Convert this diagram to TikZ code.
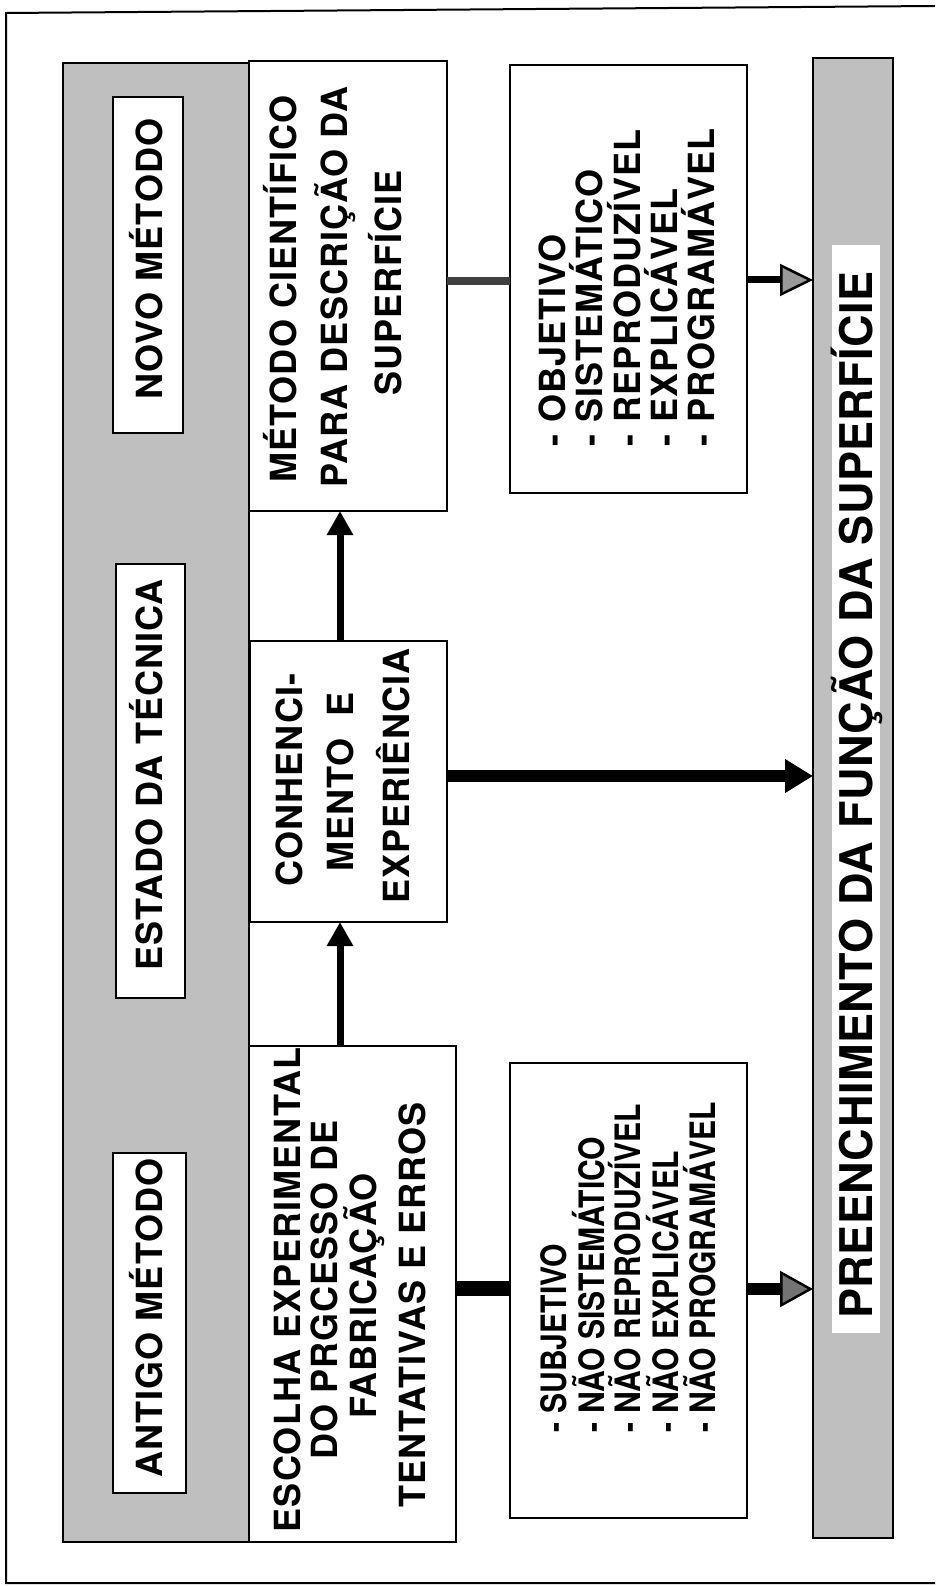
\documentclass[tikz,border=0pt]{standalone}
\usepackage{fontspec}
\setmainfont{TeX Gyre Heros}
\newfontfamily\boxfont[LetterSpace=3]{TeX Gyre Heros}
\newfontfamily\titlefont[LetterSpace=1]{TeX Gyre Heros}
\newfontfamily\condfont[FakeStretch=0.86]{TeX Gyre Heros}
\usetikzlibrary{arrows.meta}
\begin{document}
\begin{tikzpicture}[x=1pt,y=-1pt,
  box/.style={draw, fill=white, line width=1.8pt, inner sep=0pt, outer sep=0pt},
  shadebox/.style={draw, fill=black!25, line width=1.8pt, inner sep=0pt, outer sep=0pt},
  lbl/.style={rotate=90, inner sep=0pt, outer sep=0pt, anchor=base, font=\boxfont\bfseries\fontsize{36}{38}\selectfont},
  lst/.style={rotate=90, inner sep=0pt, outer sep=0pt, anchor=base west, font=\boxfont\bfseries\fontsize{36}{37}\selectfont},
  clst/.style={rotate=90, inner sep=0pt, outer sep=0pt, anchor=base west, font=\condfont\bfseries\fontsize{35}{37}\selectfont},
  uparrow/.style={line width=7pt, -{Triangle[length=24pt,width=25pt]}}
]
\useasboundingbox (0,0) rectangle (935,1586);
% frame
\draw[line width=2pt] (935,6) -- (6,13) -- (6,1583) -- (935,1583);

% shaded strip and labels
\node[shadebox, minimum width=186pt, minimum height=1479pt] (strip) at (156,802.5) {};
\node[box, minimum width=70pt, minimum height=336pt] (novo) at (148,265) {};
\node[box, minimum width=69pt, minimum height=434pt] (estado) at (150.5,781) {};
\node[box, minimum width=73pt, minimum height=340pt] (antigo) at (149.5,1323) {};
\node[lbl] (tnovo) at (162,259) {NOVO MÉTODO};
\node[lbl] (testado) at (162,775) {ESTADO DA TÉCNICA};
\node[lbl] (tantigo) at (162,1318) {ANTIGO MÉTODO};

% main boxes
\node[box, minimum width=198pt, minimum height=450pt] (metodo) at (348,286) {};
\node[box, minimum width=197pt, minimum height=281pt] (conh) at (348.5,781.5) {};
\node[box, minimum width=207pt, minimum height=496pt] (escolha) at (352.5,1294) {};
\node[box, minimum width=237pt, minimum height=428pt] (obj) at (628.5,279) {};
\node[box, minimum width=237pt, minimum height=455pt] (subj) at (628.5,1290.5) {};

\node[lbl] (m1) at (296,289) {MÉTODO CIENTÍFICO};
\node[lbl] (m2) at (347,287) {PARA DESCRIÇÃO DA};
\node[lbl] (m3) at (401,283) {SUPERFÍCIE};

\node[lbl] (c1) at (302,780) {CONHENCI-};
\node[lbl] (c2) at (353,782) {MENTO\ \ E};
\node[lbl] (c3) at (409,776) {EXPERIÊNCIA};

\node[lbl] (e1) at (300,1290) {ESCOLHA EXPERIMENTAL};
\node[lbl] (e2) at (337,1290) {DO PRGCESSO DE};
\node[lbl] (e3) at (376,1296) {FABRICAÇÃO};
\node[lbl] (e4) at (425,1305) {TENTATIVAS E ERROS};

\node[lst] (o1) at (565,446) {- OBJETIVO};
\node[lst] (o2) at (602,446) {- SISTEMÁTICO};
\node[lst] (o3) at (640,446) {- REPRODUZÍVEL};
\node[lst] (o4) at (677,446) {- EXPLICÁVEL};
\node[lst] (o5) at (714,446) {- PROGRAMÁVEL};

\node[clst] (s1) at (566,1432) {- SUBJETIVO};
\node[clst] (s2) at (604,1432) {- NÃO SISTEMÁTICO};
\node[clst] (s3) at (640,1432) {- NÃO REPRODUZÍVEL};
\node[clst] (s4) at (678,1432) {- NÃO EXPLICÁVEL};
\node[clst] (s5) at (715,1432) {- NÃO PROGRAMÁVEL};

% result band
\node[shadebox, minimum width=80pt, minimum height=1480pt] (band) at (853,798) {};
\node[fill=white, inner sep=0pt, outer sep=0pt, minimum width=48pt, minimum height=1088pt] (bandin) at (856,789) {};
\node[lbl, font=\titlefont\bfseries\fontsize{45}{45}\selectfont] (title) at (872,795) {PREENCHIMENTO DA FUNÇÃO DA SUPERFÍCIE};

% connectors
\coordinate (vx) at (340,0);
\coordinate (ya) at (0,281);
\coordinate (yb) at (0,280);
\coordinate (yc) at (0,776);
\coordinate (yd) at (0,1288);
\coordinate (ye) at (0,1289);
\draw[uparrow] (escolha.north -| vx) -- (conh.south -| vx);
\draw[uparrow] (conh.north -| vx) -- (metodo.south -| vx);
\draw[line width=8pt, black!75] (metodo.east |- ya) -- (obj.west |- ya);
\draw[line width=7pt, -{Triangle[length=33pt,width=32pt,fill=black!40,line width=2.5pt]}] (obj.east |- yb) -- (band.west |- yb);
\draw[line width=12pt, -{Triangle[length=28pt,width=32pt]}] (conh.east |- yc) -- (band.west |- yc);
\draw[line width=15pt] (escolha.east |- yd) -- (subj.west |- yd);
\draw[line width=12pt, -{Triangle[length=33pt,width=36pt,fill=black!55,line width=2.5pt]}] (subj.east |- ye) -- (band.west |- ye);
\end{tikzpicture}
\end{document}
